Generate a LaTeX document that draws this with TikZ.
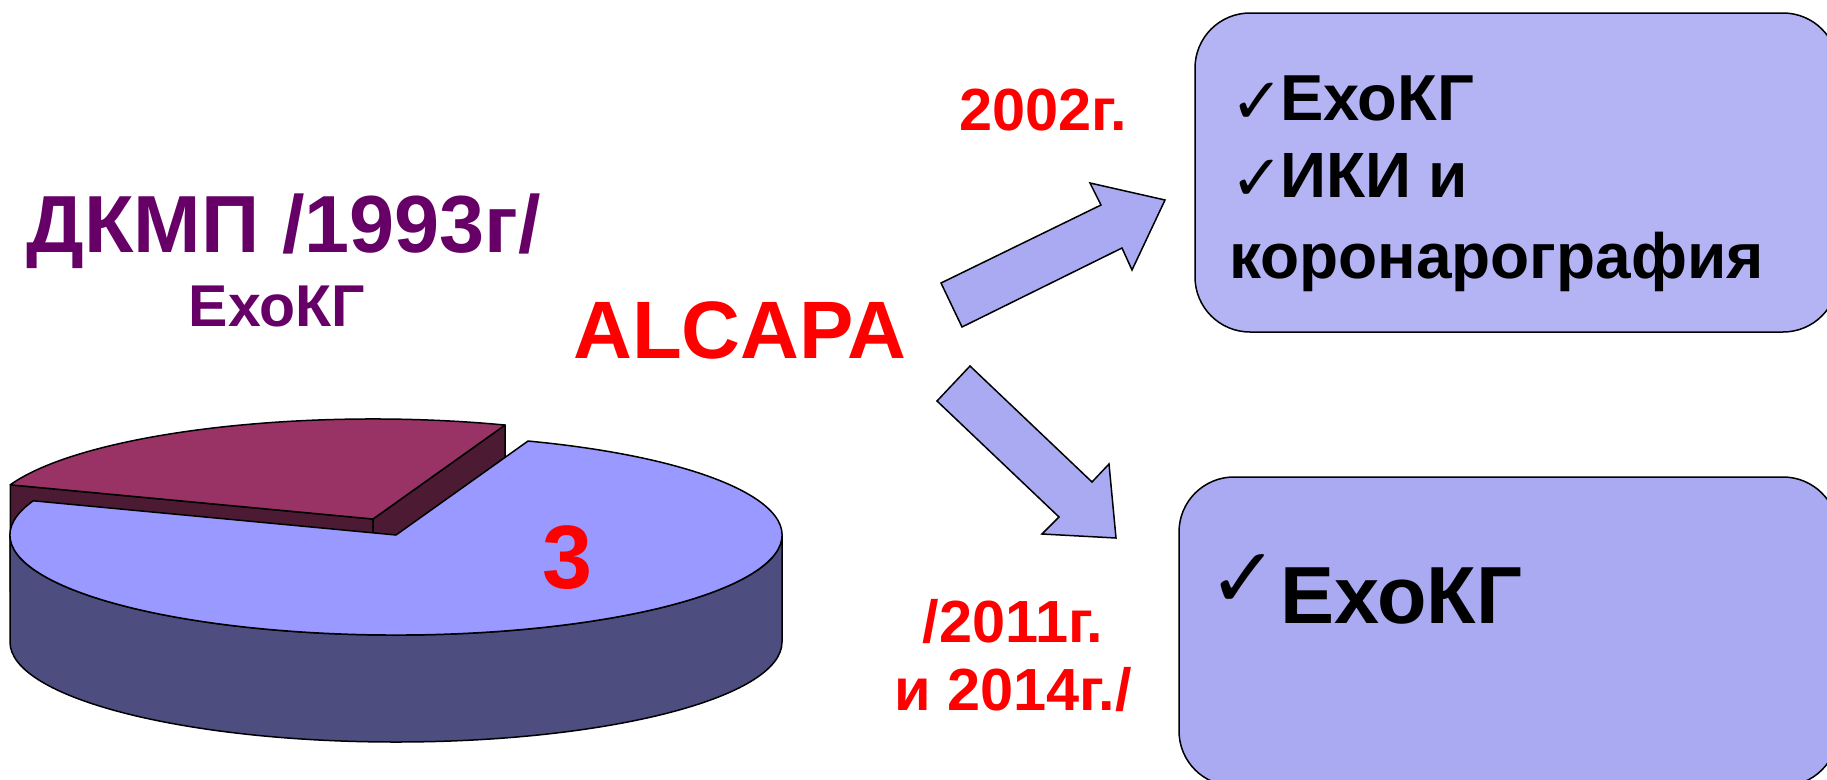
\documentclass[tikz,border=0pt]{standalone}
\usepackage{fontspec}
\setmainfont{Liberation Sans}
\newfontfamily\chkfont{DejaVu Sans}
\usetikzlibrary{calc}
\definecolor{txtpurple}{HTML}{660066}
\definecolor{txtred}{HTML}{FF0000}
\definecolor{boxtop}{HTML}{B4B4F5}
\definecolor{boxbot}{HTML}{AAAAF3}
\definecolor{arrowfill}{HTML}{AAAAF3}
\definecolor{bluetop}{HTML}{9999FF}
\definecolor{blueside}{HTML}{4D4D80}
\definecolor{redtop}{HTML}{993366}
\definecolor{reddark}{HTML}{4D1A33}
\newcommand{\chkmark}[2]{\makebox[#2][l]{\chkfont\fontsize{#1}{#1}\selectfont ✓}}
\begin{document}
\begin{tikzpicture}[x=1pt,y=-1pt,
  pieline/.style={draw=black, line width=1.5pt, line join=round},
  blockarrow/.style={draw=black, line width=1.5pt, line join=miter, fill=arrowfill},
  infobox/.style={draw=black, line width=1.5pt, rounded corners=55pt},
  lbl/.style={inner sep=0pt, outer sep=0pt, font=\bfseries}]
\useasboundingbox (0,0) rectangle (1827,779);
\clip (0,0) rectangle (1827,779);

% ---------- 3D pie ----------
\coordinate (C) at (396,535);
\coordinate (Cr) at (373,519);
\coordinate (Lr) at ($(Cr)+(200:386 and 100)$);
\coordinate (Tr) at ($(Cr)+(-70:386 and 100)$);
\coordinate (Tb) at ($(C)+(-70:386 and 100)$);
% red slice (exploded)
\filldraw[pieline, fill=reddark] (Cr) -- (Lr) -- ++(0,107) -- ($(Cr)+(0,107)$) -- cycle;
\filldraw[pieline, fill=reddark] (Cr) -- (Tr) -- ++(0,107) -- ($(Cr)+(0,107)$) -- cycle;
\filldraw[pieline, fill=redtop] (Cr) -- (Tr) arc[start angle=-70, end angle=-160, x radius=386, y radius=100] -- cycle;
% blue slice
\filldraw[pieline, fill=blueside] ($(C)+(386,0)$) -- ++(0,107)
  arc[start angle=0, end angle=180, x radius=386, y radius=100] -- ++(0,-107)
  arc[start angle=180, end angle=0, x radius=386, y radius=100] -- cycle;
\filldraw[pieline, fill=bluetop] (C) -- (Tb) arc[start angle=-70, end angle=200, x radius=386, y radius=100] -- cycle;
\node[lbl, anchor=base, text=txtred, font=\bfseries\fontsize{90}{100}\selectfont] (three) at (568,588) {3};

% ---------- left texts ----------
\node[lbl, anchor=base, text=txtpurple, font=\bfseries\fontsize{81}{96}\selectfont] (dkmp) at (284,252) {ДКМП /1993г/};
\node[lbl, anchor=base, text=txtpurple, font=\bfseries\fontsize{59}{66}\selectfont] (echo1) at (277,326) {ЕхоКГ};
\node[lbl, anchor=base, text=txtred, font=\bfseries\fontsize{81.5}{96}\selectfont] (alcapa) at (740,358) {ALCAPA};

% ---------- years ----------
\node[lbl, anchor=base, text=txtred, font=\bfseries\fontsize{59.5}{68}\selectfont] (y2002) at (1043,130) {2002г.};
\node[lbl, anchor=base, text=txtred, font=\bfseries\fontsize{59.5}{68}\selectfont] (y2011) at (1013,642) {/2011г.};
\node[lbl, anchor=base, text=txtred, font=\bfseries\fontsize{59.5}{68}\selectfont] (y2014) at (1013,710) {и 2014г./};

% ---------- block arrows ----------
\filldraw[blockarrow] (941,283) -- (1101,205) -- (1090,183) -- (1165,200) -- (1132,270) -- (1122,248) -- (962,327) -- cycle;
\filldraw[blockarrow] (970,366) -- (1092,482) -- (1109,464) -- (1116,538) -- (1042,534) -- (1059,517) -- (937,401) -- cycle;

% ---------- boxes ----------
\filldraw[infobox, fill=boxtop] (1195,13) rectangle (1838,332);
\filldraw[infobox, fill=boxbot] (1179,477) rectangle (1838,786);

\node[lbl, anchor=base west, font=\bfseries\fontsize{65}{72}\selectfont] (t1) at (1230,120) {\raisebox{-3pt}{\chkmark{64}{50pt}}ЕхоКГ};
\node[lbl, anchor=base west, font=\bfseries\fontsize{64}{72}\selectfont] (t2) at (1230,197) {\raisebox{-3pt}{\chkmark{64}{50pt}}ИКИ и};
\node[lbl, anchor=base west, font=\bfseries\fontsize{64}{72}\selectfont] (t3) at (1229,278) {коронарография};

\node[lbl, anchor=base west, font=\bfseries\fontsize{81}{92}\selectfont] (t4) at (1208,623) {\raisebox{16pt}{\chkmark{84}{72pt}}ЕхоКГ};
\end{tikzpicture}
\end{document}
